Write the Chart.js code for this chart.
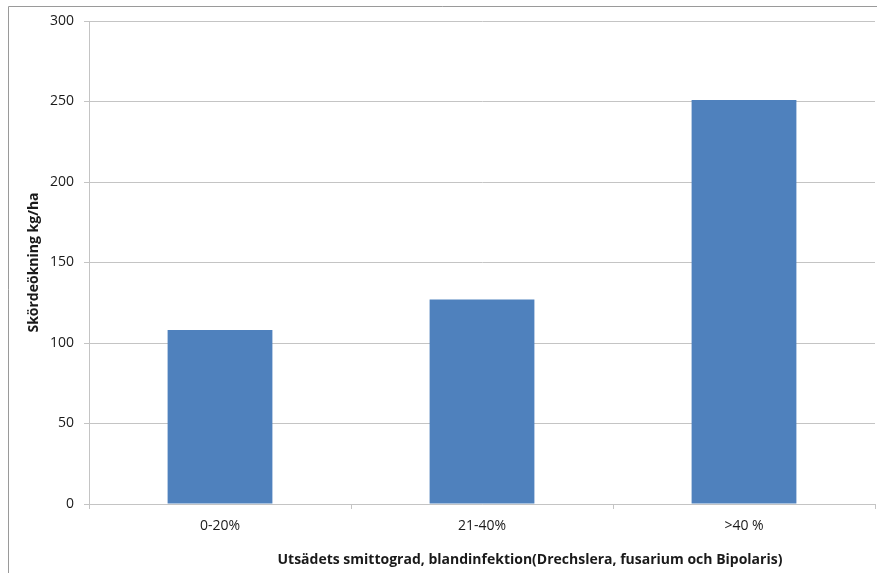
<!DOCTYPE html>
<html>
<head>
<meta charset="utf-8">
<script src="https://cdn.jsdelivr.net/npm/chart.js@4/dist/chart.umd.min.js"></script>
<style>
  html, body { margin: 0; padding: 0; background: #ffffff; }
  #wrap { width: 877px; height: 573px; position: relative; }
</style>
</head>
<body>
<div id="wrap"><canvas id="c" width="877" height="573"></canvas></div>
<script>
// Skördeökning per smittograd
const categories = ['0-20%', '21-40%', '>40 %'];
const yieldIncrease = [108, 127, 251];
const yTicks = [0, 50, 100, 150, 200, 250, 300];

const yTitle = 'Skördeökning kg/ha';
const xTitle = 'Utsädets smittograd, blandinfektion(Drechslera, fusarium och Bipolaris)';

const fontFamily = '"Open Sans", "Liberation Sans", sans-serif';
const textColor = '#1a1a1a';
const gridColor = '#c4c4c4';

// Frame around the figure and the x-axis title below the category labels
const framePlugin = {
  id: 'frame',
  afterDraw(chart) {
    const ctx = chart.ctx;
    ctx.save();
    ctx.strokeStyle = '#9a9a9a';
    ctx.lineWidth = 1;
    ctx.beginPath();
    ctx.moveTo(8.5, chart.height);
    ctx.lineTo(8.5, 6.5);
    ctx.lineTo(chart.width, 6.5);
    ctx.stroke();

    const area = chart.chartArea;
    ctx.fillStyle = textColor;
    ctx.font = 'bold 14px ' + fontFamily;
    ctx.textAlign = 'center';
    ctx.textBaseline = 'middle';
    ctx.fillText(xTitle, area.left + (area.right - area.left) * 0.561, area.bottom + 56);
    ctx.restore();
  }
};

new Chart(document.getElementById('c'), {
  type: 'bar',
  data: {
    labels: categories,
    datasets: [{
      data: yieldIncrease,
      backgroundColor: '#4F81BD',
      borderWidth: 0,
      categoryPercentage: 1,
      barPercentage: 0.4
    }]
  },
  options: {
    responsive: false,
    animation: false,
    devicePixelRatio: 1,
    layout: { padding: { left: 0, right: 2, top: 21, bottom: 0 } },
    plugins: {
      legend: { display: false },
      tooltip: { enabled: false }
    },
    scales: {
      x: {
        grid: {
          display: true,
          drawOnChartArea: false,
          drawTicks: true,
          tickLength: 5,
          color: gridColor,
          offset: true
        },
        border: { color: gridColor },
        ticks: {
          color: textColor,
          font: { family: fontFamily, size: 14 },
          padding: 9
        },
        afterFit(scale) { scale.height = 69; }
      },
      y: {
        min: 0,
        max: 300,
        afterBuildTicks(scale) {
          scale.ticks = yTicks.map(v => ({ value: v }));
        },
        grid: {
          color: gridColor,
          tickLength: 5
        },
        border: { color: gridColor },
        ticks: {
          color: textColor,
          font: { family: fontFamily, size: 14 },
          padding: 10
        },
        title: {
          display: true,
          text: yTitle,
          color: textColor,
          font: { family: fontFamily, size: 14, weight: 'bold' },
          padding: { top: 26, bottom: 0 }
        },
        afterFit(scale) { scale.width = 89; }
      }
    }
  },
  plugins: [framePlugin]
});
</script>
</body>
</html>
